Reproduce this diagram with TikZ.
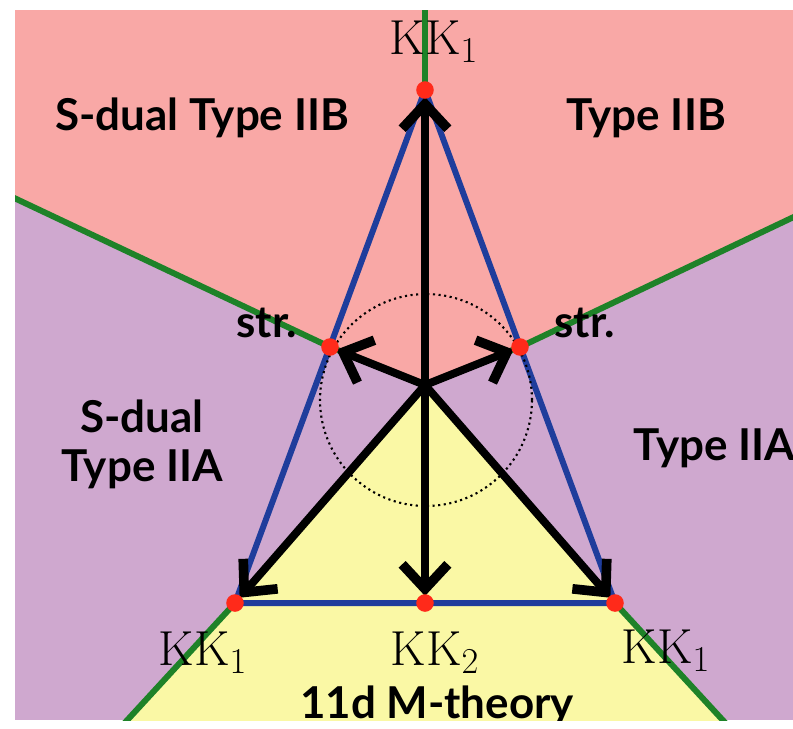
\documentclass[tikz,border=0pt]{standalone}
\usepackage{fontspec}
\newfontfamily\gillfont{Lato}
\usetikzlibrary{arrows.meta, positioning}
\definecolor{iibpink}{HTML}{F9A8A6}
\definecolor{iiapurple}{HTML}{CFA8CF}
\definecolor{mthyellow}{HTML}{FAF8A5}
\definecolor{bndgreen}{HTML}{1E8228}
\definecolor{triblue}{HTML}{1F3D9C}
\definecolor{dotred}{HTML}{FF2A1A}

\begin{document}
\begin{tikzpicture}[
  x=0.02cm, y=-0.02cm,
  region/.style={font=\gillfont\bfseries\fontsize{25}{28}\selectfont, align=center, inner sep=0pt},
  kk/.style={font=\fontsize{28}{32}\selectfont, inner sep=0pt, anchor=base},
  dot/.style={circle, fill=dotred, minimum size=10pt, inner sep=0pt},
  wall/.style={draw=bndgreen, line width=3.4pt, line cap=round, line join=round},
  tri/.style={draw=triblue, line width=3.4pt, line join=round},
  arr/.style={line width=4.5pt, shorten >=4pt,
    -{Straight Barb[length=14pt, width=26pt, line width=5.5pt, sharp]}}
]
\useasboundingbox (0,0) rectangle (793,728);
\clip (15,10) rectangle (793,720);

% corners of the phase diagram
\coordinate (c)     at (425,385);
\coordinate (kktop) at (425,90);
\coordinate (strl)  at (330,347);
\coordinate (strr)  at (520,347);
\coordinate (kkl)   at (235,603);
\coordinate (kkm)   at (425,603);
\coordinate (kkr)   at (615,603);

% far ends of the walls
\coordinate (wt)  at (425,5);
\coordinate (wl)  at (10,196);
\coordinate (wr)  at (800,214);
\coordinate (wbl) at (120,728);
\coordinate (wbr) at (730,728);

% regions
\fill[iiapurple] (15,10) rectangle (793,720);
\fill[iibpink] (wt) -| (wr) -- (strr) -- (c) -- (strl) -- (wl) |- cycle;
\fill[mthyellow] (c) -- (kkl) -- (wbl) -- (wbr) -- (kkr) -- cycle;

\draw[wall] (wl) -- (strl) -- (c) -- (strr) -- (wr);
\draw[wall] (wt) -- (c);
\draw[wall] (kkl) -- (wbl);
\draw[wall] (kkr) -- (wbr);

\draw[tri] (kktop) -- (kkl) -- (kkr) -- cycle;
\draw[dotted, line width=1.2pt] (426,400) circle[radius=2.12cm];

\foreach \t in {kktop,strl,strr,kkl,kkm,kkr}
  \draw[arr] (c) -- (\t);

\foreach \p in {kktop,strl,strr,kkl,kkm,kkr}
  \node[dot] (\p-dot) at (\p) {};

% labels
\node[region, anchor=base] (sdiib) at (202,130) {S-dual Type IIB};
\node[region, anchor=base] (iib)   at (646,130) {Type IIB};
\node[region, anchor=base] (strlab-l) at (267,337) {str.};
\node[region, anchor=base] (strlab-r) at (585,337) {str.};
\node[region] (sdiia) at (142,444) {S-dual\\Type IIA};
\node[region, anchor=base west] (iia) at (633,460) {Type IIA};
\node[region, anchor=base] (mth) at (437,718) {11d M-theory};

\node[kk] (kk-top) at (434,54)  {$\mathrm{KK}_1$};
\node[kk] (kk-l)   at (203,665) {$\mathrm{KK}_1$};
\node[kk] (kk-m)   at (435,665) {$\mathrm{KK}_2$};
\node[kk] (kk-r)   at (666,663) {$\mathrm{KK}_1$};

\end{tikzpicture}
\end{document}
